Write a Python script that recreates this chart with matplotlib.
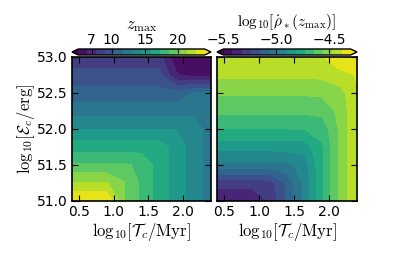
import numpy as np
import matplotlib
matplotlib.use('Agg')
import matplotlib.pyplot as plt
from matplotlib.ticker import FormatStrFormatter

plt.rcParams['mathtext.fontset'] = 'cm'
plt.rcParams['font.size'] = 10
plt.rcParams['xtick.direction'] = 'in'
plt.rcParams['ytick.direction'] = 'in'
plt.rcParams['xtick.top'] = True
plt.rcParams['ytick.right'] = True
plt.rcParams['xtick.major.size'] = 4
plt.rcParams['ytick.major.size'] = 4
plt.rcParams['axes.linewidth'] = 1.2

# grid: log10 of timescale (x) and energy (y)
log_tc = [0.4, 0.65, 0.9, 1.15, 1.4, 1.65, 1.9, 2.15, 2.4]
log_ec = [51.0, 51.25, 51.5, 51.75, 52.0, 52.25, 52.5, 52.75, 53.0]

# z_max, rows = log_ec, cols = log_tc
zmax = [
    [23.9, 23.9, 23.9, 20.0, 18.3, 16.6, 15.2, 13.9, 12.4],
    [21.4, 21.4, 21.4, 20.0, 18.3, 16.6, 15.2, 13.9, 12.4],
    [18.76, 18.76, 18.76, 18.76, 18.3, 16.6, 15.2, 13.9, 12.4],
    [16.62, 16.62, 16.62, 16.62, 16.62, 16.6, 15.2, 13.9, 12.4],
    [14.5, 14.5, 14.5, 14.5, 14.5, 14.5, 14.5, 13.9, 12.4],
    [12.54, 12.54, 12.54, 12.54, 12.54, 12.54, 12.54, 12.8, 12.4],
    [10.9, 10.9, 10.9, 10.9, 10.9, 10.9, 10.9, 11.8, 12.3],
    [9.54, 9.54, 9.54, 9.54, 9.54, 9.54, 6.5, 5.9, 5.8],
    [8.24, 8.24, 8.24, 8.24, 8.24, 8.24, 5.6, 5.2, 5.0],
]

# log10 of SFR density at z_max
rho_zmax = [
    [-5.40, -5.40, -5.39, -5.32, -5.143, -4.96, -4.744, -4.544, -4.39],
    [-5.298, -5.298, -5.298, -5.285, -5.14, -4.96, -4.744, -4.544, -4.39],
    [-5.016, -5.016, -5.016, -5.016, -5.01, -4.945, -4.744, -4.544, -4.39],
    [-4.868, -4.868, -4.868, -4.868, -4.865, -4.86, -4.74, -4.544, -4.39],
    [-4.729, -4.729, -4.729, -4.729, -4.729, -4.725, -4.70, -4.544, -4.39],
    [-4.625, -4.625, -4.625, -4.625, -4.625, -4.625, -4.615, -4.535, -4.39],
    [-4.546, -4.546, -4.546, -4.546, -4.546, -4.546, -4.54, -4.515, -4.388],
    [-4.456, -4.456, -4.456, -4.456, -4.456, -4.456, -4.45, -4.40, -4.383],
    [-4.40, -4.40, -4.40, -4.40, -4.40, -4.398, -4.39, -4.355, -4.33],
]

zmax_levels = np.linspace(5, 24, 15)
rho_levels = np.linspace(-5.5, -4.3, 15)
zmax_ticks = [7, 10, 15, 20]
rho_ticks = [-5.5, -5.0, -4.5]

W, H = 399, 261
fig = plt.figure(figsize=(W / 100, H / 100), dpi=100)
ax1 = fig.add_axes([72 / W, 60 / H, 139 / W, 144 / H])
ax2 = fig.add_axes([217 / W, 60 / H, 140 / W, 144 / H])
cax1 = fig.add_axes([72 / W, 1 - 55 / H, 139 / W, 6 / H])
cax2 = fig.add_axes([217 / W, 1 - 55 / H, 140 / W, 6 / H])

cs1 = ax1.contourf(log_tc, log_ec, zmax, levels=zmax_levels, cmap='viridis', extend='both')
cs2 = ax2.contourf(log_tc, log_ec, rho_zmax, levels=rho_levels, cmap='viridis', extend='both')

xlab = r'$\mathrm{log}_{10}[\mathcal{T}_c/\mathrm{Myr}]$'
for ax in (ax1, ax2):
    ax.set_xlim(0.4, 2.4)
    ax.set_ylim(51.0, 53.0)
    ax.set_xticks([0.5, 1.0, 1.5, 2.0])
    ax.set_yticks([51.0, 51.5, 52.0, 52.5, 53.0])
    ax.xaxis.set_major_formatter(FormatStrFormatter('%.1f'))
    ax.set_xlabel(xlab, fontsize=12, labelpad=1)
    ax.tick_params(labelsize=10, pad=3)
ax1.yaxis.set_major_formatter(FormatStrFormatter('%.1f'))
ax2.set_yticklabels([])
ax1.set_ylabel(r'$\mathrm{log}_{10}[\mathcal{E}_c/\mathrm{erg}]$', fontsize=12, labelpad=0)

cb1 = fig.colorbar(cs1, cax=cax1, orientation='horizontal', ticks=zmax_ticks)
cb2 = fig.colorbar(cs2, cax=cax2, orientation='horizontal', ticks=rho_ticks)
cb1.set_label(r'$z_{\mathrm{max}}$', fontsize=12, labelpad=3)
cb2.set_label(r'$\mathrm{log}_{10}[\dot{\rho}_*(z_{\mathrm{max}})]$', fontsize=11, labelpad=5)
for cb in (cb1, cb2):
    cb.ax.xaxis.set_ticks_position('top')
    cb.ax.xaxis.set_label_position('top')
    cb.ax.tick_params(direction='in', length=3, labelsize=10, pad=1.5)
    cb.outline.set_linewidth(1.0)

fig.savefig('out.png', dpi=100)
